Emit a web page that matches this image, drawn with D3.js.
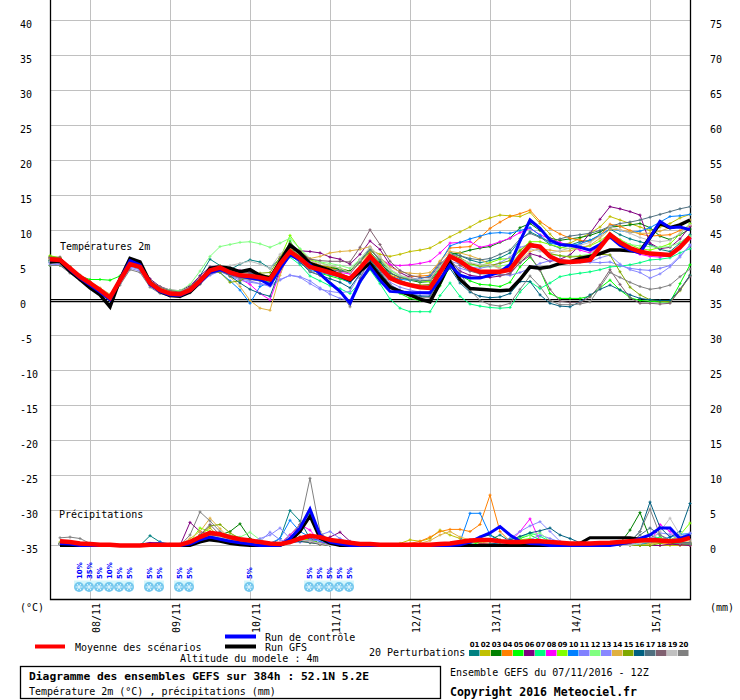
<!DOCTYPE html>
<html>
<head>
<meta charset="utf-8">
<script src="https://cdn.jsdelivr.net/npm/d3@7"></script>
<style>
body{margin:0;background:#fff}
text{font-family:"DejaVu Sans Mono",monospace;font-size:10px;fill:#000}
</style>
</head>
<body>
<svg id="chart" width="740" height="700"></svg>
<script>
// time steps: every 3h from 07/11 12Z (hours after run start)
var hours = d3.range(0, 193, 3);
var dayLabels = ["08/11","09/11","10/11","11/11","12/11","13/11","14/11","15/11"];
var dayHours = [12,36,60,84,108,132,156,180];
var tempTicks = [40,35,30,25,20,15,10,5,0,-5,-10,-15,-20,-25,-30,-35];
var precTicks = [75,70,65,60,55,50,45,40,35,30,25,20,15,10,5,0];

// temperature 2m (°C)
var meanT = [5.9,5.8,4.6,3.4,2.5,1.5,0.4,2.9,5.2,4.8,2.5,1.5,1.0, 0.9,1.5,2.8,4.3,4.7,4.0,3.6,3.5,3.3,3.0,5.2,7.0,6.0, 4.8,4.4,4.0,3.6,3.1,4.6,6.3,4.8,3.2,2.6,2.2,1.9,1.8, 4.0,6.3,5.6,4.6,4.1,4.1,4.1,4.4,6.3,7.9,7.7,6.3,5.6, 5.5,5.6,5.8,7.6,9.4,8.3,7.5,7.0,6.7,6.6,6.5,7.6,9.1];
var ctrlT = [5.8,5.9,4.4,3.2,2.2,1.2,0.1,3.0,5.7,5.1,2.3,1.3,0.8, 0.7,1.4,2.6,4.0,4.4,3.9,3.5,3.2,3.0,2.2,4.5,6.5,5.8, 5.1,3.8,2.5,1.3,-0.4,2.7,4.8,2.9,1.3,1.2,1.1,1.1,1.1, 3.0,5.1,3.6,3.2,3.2,3.6,4.1,5.1,8.5,11.5,10.3,8.6,8.0, 7.9,7.6,7.2,8.0,9.1,7.9,7.2,6.8,9.0,11.3,10.4,10.5,10.1];
var gfsT = [5.5,5.6,4.2,3.0,1.8,0.8,-0.9,3.0,6.0,5.5,2.6,1.3,0.7, 0.6,1.2,2.6,4.6,4.8,4.6,4.1,4.4,3.6,3.2,5.5,7.9,6.8, 5.3,4.8,4.3,3.5,2.9,4.2,5.3,3.5,1.9,1.3,0.8,0.2,-0.2, 2.5,5.5,3.0,1.7,1.6,1.5,1.4,1.5,3.0,4.8,4.6,4.8,5.3, 5.5,6.0,6.3,6.7,7.2,7.2,7.1,7.0,9.0,11.0,10.4,10.8,11.5];

var t01 = [6.2,6.0,4.3,3.2,2.2,1.0,0.0,2.6,5.0,4.5,2.3,1.3,0.8, 0.8,1.8,3.5,5.9,5.0,4.4,5.2,5.8,5.5,4.6,6.0,7.6,6.3, 5.2,4.9,4.6,4.4,4.0,5.6,7.5,5.6,3.6,2.9,2.3,2.0,2.1, 4.5,6.9,6.4,5.8,5.4,5.7,6.1,6.8,8.6,9.8,9.1,8.0,7.5, 7.9,8.4,8.6,9.3,10.2,9.4,8.8,8.4,8.0,7.3,7.0,8.2,9.4];
var t02 = [5.7,5.6,4.4,3.3,2.4,1.6,0.7,3.1,5.4,4.9,2.8,1.9,1.4, 1.2,1.9,3.0,4.5,4.9,4.4,4.1,3.9,3.7,3.5,5.8,7.8,6.7, 5.5,5.0,4.8,4.6,4.2,5.6,7.2,6.6,6.3,6.6,7.0,7.2,7.5, 8.3,9.1,9.8,10.5,11.3,11.8,12.2,12.1,12.0,12.6,11.0,9.5,8.0, 8.2,8.9,9.6,10.5,12.0,11.5,11.0,10.5,10.0,10.5,11.0,11.8,12.3];
var t03 = [5.8,5.9,4.7,3.5,2.6,1.4,0.3,2.8,5.3,4.9,2.6,1.6,1.1, 0.8,1.3,2.6,4.0,4.6,3.9,3.4,3.3,3.2,2.9,5.4,7.4,6.2, 5.1,4.9,4.7,4.5,4.2,5.8,6.9,5.4,3.9,3.3,2.9,2.6,2.7, 4.6,6.6,6.8,7.2,7.5,7.7,8.3,8.9,10.4,11.0,10.0,8.9,8.6, 8.8,9.0,9.3,9.8,10.5,10.6,10.8,11.0,10.4,9.2,8.7,9.4,10.2];
var t04 = [6.0,5.9,4.6,3.4,2.6,1.6,0.6,3.0,5.4,4.9,2.5,1.6,1.2, 1.0,1.7,3.0,4.4,4.9,4.1,3.7,3.5,3.3,3.0,5.4,7.4,6.9, 5.8,5.0,4.6,4.2,4.0,5.5,6.8,5.1,3.6,3.2,3.4,3.5,3.6, 5.6,7.5,7.6,7.7,9.0,10.3,11.2,12.0,12.4,12.9,11.3,10.3,9.5, 8.9,8.6,8.4,9.3,10.9,10.6,10.0,9.5,9.2,9.3,9.4,10.0,10.7];
var t05 = [5.0,5.0,4.3,3.5,3.0,3.0,2.9,3.5,5.6,4.9,2.7,1.7,1.1, 0.8,1.4,2.6,4.1,4.5,3.7,3.2,3.1,2.9,2.6,5.0,8.5,6.3, 4.6,3.9,3.5,3.1,2.6,4.3,5.9,4.0,2.0,1.0,0.3,0.0,-0.1, 2.1,4.9,3.6,2.8,2.3,2.2,2.0,2.6,4.8,6.2,4.4,1.0,0.3, 0.3,0.3,0.6,1.8,2.9,1.5,0.4,0.0,-0.1,-0.2,-0.2,2.4,5.1];
var t06 = [6.1,6.2,4.8,3.6,2.7,1.6,0.5,3.3,5.5,5.1,3.1,2.0,1.5, 1.4,2.1,3.5,4.8,5.0,4.6,4.3,4.0,3.5,3.3,5.7,7.6,7.1, 7.0,6.8,6.2,5.9,5.2,6.6,8.5,7.3,5.1,4.0,3.3,2.9,2.8, 4.1,5.6,4.2,3.6,3.4,3.3,3.5,3.9,5.4,6.7,6.3,5.6,5.9, 6.5,7.9,9.6,11.6,13.4,13.1,12.7,12.2,8.2,7.4,7.6,8.8,10.6];
var t07 = [5.6,5.5,4.3,3.2,2.3,1.3,0.2,2.7,5.0,4.5,2.4,1.4,0.8, 0.7,1.3,2.5,4.0,4.5,3.9,3.5,3.4,3.0,2.6,4.6,6.2,5.1, 3.5,2.8,2.1,1.7,1.0,2.6,4.4,2.4,0.2,-1.1,-1.6,-1.6,-1.6, 0.7,2.5,0.6,-0.5,-0.8,-1.0,-1.1,-1.0,1.2,2.7,1.7,2.5,3.4, 3.7,3.9,4.1,4.4,4.8,4.9,5.1,5.4,5.8,5.9,6.1,6.8,7.4];
var t08 = [5.9,5.8,4.5,3.3,2.4,1.4,0.4,2.8,5.2,4.7,2.3,1.3,0.9, 0.8,1.5,2.7,4.2,4.6,3.8,3.1,2.3,1.0,0.1,4.0,6.6,5.4, 4.6,4.3,4.2,4.0,3.8,5.5,7.2,6.0,5.1,5.0,5.1,5.3,5.6, 6.8,8.2,8.3,8.4,7.6,7.9,8.4,8.9,9.7,10.3,9.4,8.8,8.3, 7.8,7.2,6.8,7.9,9.1,8.0,7.1,6.6,6.3,6.2,6.4,7.4,8.8];
var t09 = [6.4,6.1,4.8,3.6,2.6,1.5,0.5,3.0,5.4,5.0,2.7,1.7,1.3, 1.1,1.7,3.0,4.6,5.0,4.3,3.8,3.6,3.4,3.3,6.0,9.3,7.3, 5.8,5.4,5.0,4.6,4.0,5.4,7.2,5.9,4.3,3.5,3.1,2.8,2.7, 4.9,6.6,5.7,5.2,5.0,5.4,5.9,6.0,7.2,8.4,8.4,8.0,7.6, 7.4,7.6,7.8,8.5,9.6,8.7,8.0,7.4,7.2,7.6,8.1,9.5,11.0];
var t10 = [5.5,5.6,4.4,3.3,2.3,1.2,0.1,2.7,5.6,5.0,2.5,1.4,0.8, 0.7,1.4,2.9,4.4,4.0,2.8,1.5,-0.4,2.0,2.6,5.2,6.5,5.4, 4.3,4.0,3.7,3.3,2.5,4.1,5.9,4.6,3.4,3.0,2.9,3.1,3.5, 5.4,7.8,8.3,8.8,9.2,9.6,9.7,9.6,10.0,10.4,9.3,8.2,7.9, 7.8,8.1,8.6,9.4,10.2,10.0,9.7,9.9,10.4,11.2,12.0,12.1,12.3];
var t11 = [5.4,5.3,4.2,3.1,2.2,1.2,0.2,2.5,4.8,4.4,2.2,1.2,0.7, 0.6,1.2,2.4,3.6,4.2,3.5,2.9,2.6,2.4,2.2,3.0,3.6,3.4, 2.8,1.8,0.9,0.3,0.0,3.2,5.6,3.9,2.3,1.5,1.0,0.7,0.8, 3.3,5.4,4.6,4.2,4.0,4.1,3.7,3.6,4.0,4.6,5.3,5.7,5.6, 5.4,5.5,5.5,5.4,5.5,5.0,4.6,4.4,4.3,4.6,5.0,6.4,7.8];
var t12 = [5.8,5.7,4.5,3.4,2.5,1.7,0.8,3.2,5.5,5.0,2.8,1.9,1.5, 1.4,2.3,4.2,6.3,7.7,8.0,8.3,8.4,8.1,7.6,8.2,8.9,7.4, 6.0,5.5,5.3,5.0,4.6,5.9,7.6,6.2,4.3,3.5,3.0,2.8,2.9, 4.7,6.6,5.8,5.1,4.8,4.8,4.9,5.2,6.8,8.1,7.4,6.6,6.4, 6.3,6.4,6.6,7.7,8.9,8.5,8.0,7.8,7.7,7.6,7.7,8.3,9.2];
var t13 = [5.2,5.1,4.0,3.0,2.1,1.1,0.1,2.4,4.6,4.2,2.1,1.2,0.8, 0.7,1.3,2.6,3.8,4.1,3.6,3.1,2.8,2.4,2.0,2.9,3.6,3.3, 2.4,1.6,1.3,1.1,1.3,3.8,6.1,4.3,2.6,1.9,1.5,1.2,1.2, 3.6,5.6,5.2,4.8,4.6,4.9,5.4,6.2,7.6,8.0,7.2,6.4,5.9, 5.6,5.5,5.5,6.1,6.5,5.2,4.4,4.0,3.2,3.8,4.8,6.2,8.0];
var t14 = [6.0,5.9,4.7,3.5,2.7,1.8,0.9,3.0,5.1,4.7,2.6,1.7,1.2, 1.1,1.8,3.2,4.6,4.8,3.4,2.0,0.0,-1.1,-1.4,3.6,7.2,6.6, 6.0,6.3,6.8,7.0,7.1,7.3,7.7,6.2,4.8,4.1,3.9,3.8,4.0, 5.6,7.0,6.8,6.4,5.9,5.2,4.6,4.2,5.6,7.0,7.4,7.2,7.0, 7.1,7.5,7.9,8.9,10.2,10.1,9.8,9.6,9.6,9.9,10.4,10.9,11.5];
var t15 = [6.3,6.1,4.8,3.5,2.6,1.6,0.5,2.9,5.2,4.8,2.5,1.6,1.1, 1.0,1.7,3.0,4.2,4.0,2.6,2.8,3.6,3.9,4.0,6.2,8.1,6.6, 5.3,4.8,4.3,3.9,3.3,4.7,6.5,5.0,3.4,2.8,2.4,2.2,2.3, 4.3,6.6,6.1,5.3,4.9,5.0,5.3,5.7,7.1,8.3,7.6,6.7,6.4, 6.2,6.3,6.4,6.6,6.5,4.1,1.9,0.8,0.1,-0.1,-0.2,1.4,3.6];
var t16 = [5.7,5.6,4.4,3.3,2.3,1.3,0.2,2.7,5.1,4.6,2.3,1.3,0.8, 0.7,1.4,2.9,4.3,4.4,3.5,2.5,1.6,1.0,0.6,4.4,6.9,5.5, 4.1,3.6,3.1,2.6,1.8,3.8,5.8,4.0,2.2,1.4,0.9,0.6,0.6, 3.0,4.6,2.5,1.2,0.6,0.4,0.5,1.0,2.7,2.7,0.8,-0.4,-0.8, -0.9,-0.2,0.8,1.6,2.2,1.5,0.8,0.3,0.1,0.0,0.0,1.6,3.6];
var t17 = [5.5,5.6,4.5,3.3,2.4,1.4,0.4,2.8,5.0,4.6,2.4,1.4,1.0, 0.9,1.6,3.0,4.5,4.8,4.3,4.0,3.9,3.6,3.3,5.0,6.8,6.0, 5.0,4.7,4.4,4.2,4.0,5.5,7.3,5.8,4.0,3.3,3.0,2.8,2.9, 5.0,6.6,6.4,6.0,5.8,6.0,6.6,7.2,8.8,9.6,9.0,8.4,8.8, 9.2,9.4,9.6,10.0,10.6,11.0,11.2,11.5,11.9,12.3,12.7,13.1,13.4];
var t18 = [6.1,6.0,4.6,3.3,2.4,1.3,0.3,2.9,5.5,5.1,2.9,1.9,1.4, 1.2,1.9,3.2,4.5,4.8,4.0,3.7,3.6,3.4,3.1,6.0,8.2,7.0, 5.9,5.7,5.6,5.6,5.5,7.6,10.1,8.0,5.6,4.3,3.6,3.3,3.3, 5.2,6.5,5.0,4.2,3.8,3.8,3.6,3.8,5.4,6.4,4.3,1.6,-0.1, -0.3,-0.3,0.5,2.2,4.4,2.3,0.4,-0.4,-0.4,-0.5,-0.4,1.6,3.4];
var t19 = [5.6,5.5,4.3,3.2,2.3,1.2,0.2,2.6,5.3,4.9,2.6,1.6,1.1, 1.0,1.6,3.0,4.4,5.0,5.0,5.3,5.6,5.2,4.6,6.6,8.0,6.8, 5.6,5.3,5.0,4.6,4.0,5.8,7.6,6.2,4.5,3.6,3.2,3.0,3.1, 4.9,6.6,5.9,5.4,5.1,5.1,4.5,4.3,5.8,7.4,7.0,6.8,7.1, 7.5,7.9,8.3,9.2,10.6,10.1,9.6,9.0,8.6,8.4,8.6,9.6,10.8];
var t20 = [5.0,5.0,3.9,2.9,2.0,1.0,0.0,2.2,4.4,4.0,1.9,1.0,0.6, 0.5,1.1,2.3,3.8,4.2,3.6,3.2,3.0,2.8,2.5,4.8,6.8,5.6, 4.2,3.6,2.5,1.3,-0.9,3.2,6.0,4.2,2.3,1.2,0.6,0.4,0.4, 3.8,6.0,4.0,1.5,0.0,-0.6,-0.8,-0.4,1.6,3.5,2.0,0.0,-0.6, -0.6,-0.5,-0.2,1.9,4.0,3.3,2.6,2.0,1.6,1.8,2.2,3.4,4.5];

// precipitation (mm per 3h)
var meanP = [null,0.6,0.5,0.3,0.2,0.1,0.1,0,0,0,0.1,0.1,0.1, 0.1,0.5,1.2,1.8,1.6,1.2,0.9,0.7,0.5,0.3,0.2,0.5,1.0, 1.4,1.2,0.8,0.6,0.4,0.2,0.2,0.1,0.1,0.1,0.1,0.1,0.1, 0.2,0.3,0.5,0.7,0.8,0.8,0.6,0.5,0.5,0.6,0.6,0.5,0.4, 0.3,0.3,0.3,0.35,0.4,0.5,0.6,0.7,0.8,0.7,0.6,0.7,1.1];
var ctrlP = [null,0.3,0.2,0,0,0,0,0,0,0,0.3,0.2,0, 0,0.2,0.8,1.2,0.9,0.6,0.4,0.2,0,0,0,1.0,2.5, 5.2,1.5,0.5,0.2,0,0,0,0,0,0,0,0,0, 0,0,0.1,0.5,1.2,1.8,2.7,1.5,0.6,0.3,0.2,0,0, 0,0,0,0,0,0.2,0.5,1.0,1.5,2.5,2.5,1.0,1.5];
var gfsP = [null,0,0,0,0,0,0,0,0,0,0,0,0, 0,0,0.5,0.8,0.6,0.3,0.1,0,0,0,0,0.6,2.0, 4.2,1.0,0.3,0,0,0,0,0,0,0,0,0,0, 0,0,0,0,0,0,0,0,0,0,0,0,0, 0,0.3,1.1,1.1,1.1,1.1,1.1,0.9,0.8,0.7,0.6,0.8,1.2];

var r01 = [null,0.3,0.2,0,0,0,0,0,0,0,1.4,0.5,0, 0,0.2,1.0,1.5,1.2,0.8,0.5,0.3,0.2,0.1,1.0,5.0,3.5, 1.0,0.3,0.1,0,0,0,0,0,0,0,0,0,0, 0,0,0,0.3,0.5,0.8,1.5,0.6,0.2,0,0,0,0, 0,0,0,0,0,0,0,0,0.5,0.8,0.5,0.3,0.2];
var r02 = [null,0.5,0.4,0.2,0,0,0,0,0,0,0,0,0, 0,0.3,1.5,2.5,1.2,0.8,0.4,0.2,0,0,0.3,1.0,0.8, 0.5,0.2,0,0,0,0,0,0,0,0.3,0.8,0.6,1.0, 2.2,1.5,1.0,0.6,0.3,0.2,0,0,0,0,0,0,0, 0,0,0,0,0,0,0,0,0,0,0,0,0.2];
var r03 = [null,0.2,0.2,0,0,0,0,0,0,0,0,0,0, 0,0.5,1.2,1.8,1.5,2.0,3.1,1.0,0.3,0,0.2,0.8,1.2, 0.8,0.3,0,0,0,0,0,0,0,0,0,0,0, 0,0,0.3,0.6,1.2,1.5,0.8,0.3,0,0,0,0,0, 0,0,0,0,0,0.3,2.2,4.7,1.0,0.5,0.3,0.2,0.2];
var r04 = [null,0.3,0.2,0,0,0,0,0,0,0,0,0,0, 0,0.4,1.2,2.0,1.5,1.0,0.6,0.3,0.1,0,0.3,0.8,1.0, 0.6,0.2,0,0,0,0,0,0,0,0,0.3,0.6,1.2, 2.0,2.3,2.3,2.0,3.0,7.2,2.0,0.6,0.2,0,0,0,0, 0,0,0,0,0,0,0,0.3,0.5,0.3,0.2,0.1,0];
var r05 = [null,0.2,0.1,0,0,0,0,0,0,0,0,0,0, 0,0.3,1.0,1.6,1.4,1.0,0.6,0.3,0.1,0,0.2,1.5,3.0, 4.6,1.0,0.3,0,0,0,0,0,0,0,0,0,0, 0,0,0,0,0.5,0.8,0.6,0.5,1.0,1.5,0.8,0.3,0, 0,0,0,0,0,0,0,0,0.5,1.2,0.5,0.4,0.3];
var r06 = [null,0.2,0.1,0,0,0,0,0,0,0,0,0,0, 0,3.3,2.0,1.5,1.0,0.6,0.3,0.1,0,0,0.2,0.6,1.2, 1.0,0.8,1.2,1.9,0.6,0.1,0,0,0,0,0,0,0, 0,0,0,0,0.2,0.3,0.3,0.2,0,0,0,0,0, 0,0,0,0,0,0,0,0,0,0,0.2,0.1,0];
var r07 = [null,0.2,0.1,0,0,0,0,0,0,0,0,0,0, 0,0.2,0.8,1.3,1.0,0.6,0.4,0.2,0,0,0.3,0.8,1.0, 1.2,1.5,0.6,0.2,0,0,0,0,0,0,0,0,0, 0,0,0,0,0,0,0.5,1.0,1.2,1.8,1.3,0.6,0.3, 0,0,0,0,0,0,0,0.5,1.5,1.0,0.5,0.3,0.2];
var r08 = [null,0.2,0.1,0,0,0,0,0,0,0,0,0,0, 0,0.2,0.8,1.2,1.0,0.8,0.5,0.2,0,0,0.3,1.5,3.0, 2.2,0.5,0.2,0,0,0,0,0,0,0,0,0,0, 0,0,0,0,0,0,0.2,0.5,2.0,3.8,0.6,0.2,0, 0,0,0,0,0,0,0,0,0.3,3.0,2.0,0.6,0.3];
var r09 = [null,0.2,0.2,0,0,0,0,0,0,0,0,0,0, 0,0.5,2.5,2.0,1.4,0.9,0.5,0.2,0,0,0.2,0.7,1.0, 0.8,0.3,0,0,0,0,0,0,0,0,0,0,0, 0,0,0,0,0,0,0.2,0.5,0.8,1.0,0.6,0.3,0, 0,0,0,0,0,0,0,0,0.3,0.5,0.8,1.5,3.2];
var r10 = [null,0.3,0.2,0,0,0,0,0,0,0,0.2,0.5,0.2, 0,0.3,0.8,1.2,1.0,0.8,0.5,0.3,0.1,0.3,1.0,3.6,2.0, 1.2,0.6,0.2,0,0,0,0,0,0,0,0,0,0, 0,0,0.5,4.6,4.6,1.5,0.5,0.2,0,0,0,0,0, 0,0,0,0,0,0,0,0.2,0.5,0.8,1.2,1.6,1.7];
var r11 = [null,0.2,0.1,0,0,0,0,0,0,0,0,0,0, 0,0.2,0.6,1.0,0.8,0.5,0.3,0.2,0.6,1.9,0.8,0.5,0.5, 0.8,1.5,2.0,1.0,0.3,0,0,0,0,0,0,0,0, 0,0,0,0,0,0,0.2,0.4,0.6,0.8,1.5,1.0,0.5, 0,0,0,0,0,0,0,0.3,0.5,0.6,0.8,1.2,1.8];
var r12 = [null,0.2,0.2,0.1,0,0,0,0,0,0,0,0,0, 0,0.3,0.8,1.5,1.8,1.5,1.2,1.9,0.8,0.3,0.2,0.5,0.8, 0.6,0.2,0,0,0,0,0,0,0,0,0,0,0, 0,0,0,0,0,0,0.3,0.8,1.2,1.5,1.8,0.6,0.2, 0,0,0,0,0,0,0,0.3,0.6,1.0,0.8,0.4,0.3];
var r13 = [null,0.2,0.1,0,0,0,0,0,0,0,0,0,0, 0,0.2,0.5,0.8,0.6,0.4,0.3,0.5,1.0,1.5,2.5,1.0,0.5, 0.6,0.8,0.5,0.3,0.2,0.1,0,0,0,0,0,0,0, 0,0,0,0,0,0,0.5,1.0,2.0,2.8,3.4,2.0,0.6, 0.2,0,0,0,0,0,0.2,0.5,1.0,1.8,1.6,1.0,1.7];
var r14 = [null,0.2,0.2,0,0,0,0,0,0,0,0,0,0, 0,1.0,2.0,3.9,2.4,1.0,0.5,0.2,0,0,0.2,0.5,0.6, 0.4,0.2,0,0,0,0,0,0,0,0,0,0.3,0.7, 1.5,2.0,1.2,0.8,0.5,0.3,0,0,0,0,0,0,0, 0,0,0,0,0,0,0,0,0.2,0.4,0.4,0.5,0.5];
var r15 = [null,0.3,0.2,0,0,0,0,0,0,0,0,0,0, 0,0.5,1.5,2.8,3.0,1.8,1.0,0.5,0.2,0,0.2,0.6,0.8, 0.5,0.3,0,0,0,0,0,0,0,0,0,0,0, 0,0,0,0,0,0,0,0,0,0,0,0,0, 0,0,0,0,0,0,0,0,0,0.3,0.6,0.5,0.3];
var r16 = [null,0.2,0.2,0,0,0,0,0,0,0,0.3,0.2,0, 0,0.2,0.6,1.0,0.8,0.5,0.3,0.2,0,0,0.2,0.4,0.6, 0.4,0.2,0,0,0,0,0,0,0,0,0,0,0, 0,0,0,0,0,0.2,0.4,0.8,1.3,1.8,2.1,2.5,1.5, 1.0,0.4,0.2,0,0,0,0.5,2.0,6.2,2.6,1.2,2.0,6.0];
var r17 = [null,0.2,0.1,0,0,0,0,0,0,0,0,0,0, 0,0.2,0.6,1.0,0.8,0.5,0.3,0.2,0,0,0.2,0.5,0.8, 0.6,0.3,0,0,0,0,0,0,0,0,0,0,0, 0,0,0,0,0,0,0,0,0,0,0,0,0, 0,0,0,0,0,0,0.3,1.5,2.5,1.5,0.8,0.5,0.4];
var r18 = [null,0.2,0.2,0,0,0,0,0,0,0,0,0,0, 0,0.5,1.5,3.0,1.5,0.8,0.4,0.2,0,0,0.2,0.5,0.8, 0.5,0.2,0,0,0,0,0,0,0,0,0,0,0, 0,0,0,0,0,0,0,0,0,0,0,0,0, 0,0,0,0,0,0,0.3,1.0,1.5,0.8,0.5,0.3,0.2];
var r19 = [null,0.2,0.1,0,0,0,0,0,0,0,0,0,0, 0,0.3,0.8,1.4,1.2,0.8,0.5,0.3,0.1,0,0.2,0.5,0.8, 0.6,0.3,0,0,0,0,0,0,0,0,0,0,0, 0,0,0,0,0,0,0,0.3,0.5,0.5,0.3,0,0, 0,0,0,0,0,0,0,0.3,0.8,2.0,3.9,1.5,0.8];
var r20 = [null,1.1,1.2,1.0,0.3,0,0,0,0,0,0,0,0, 0,1.5,4.8,3.5,2.0,1.0,0.5,0.3,0.1,0,0.3,1.0,3.0, 9.6,2.0,0.5,0.2,0,0,0,0,0,0,0,0,0, 0,0,0,0,0,0,0,0,0,0,0,0,0, 0,0,0,0,0,0,0.5,2.0,5.2,1.5,0.6,0.3,0.3];

var pertNames = ["01","02","03","04","05","06","07","08","09","10","11","12","13","14","15","16","17","18","19","20"];
var pertColors = ["#008080","#c0c000","#008000","#ff8000","#00ff00","#800080","#00ff80","#ff00ff","#80ff00","#0080ff",
                  "#8080ff","#80ff80","#8888ff","#e0b040","#80a800","#006080","#507080","#806070","#c0c0c0","#808080"];
var pertT = [t01,t02,t03,t04,t05,t06,t07,t08,t09,t10,t11,t12,t13,t14,t15,t16,t17,t18,t19,t20];
var pertP = [r01,r02,r03,r04,r05,r06,r07,r08,r09,r10,r11,r12,r13,r14,r15,r16,r17,r18,r19,r20];

// snow probability icons
var snowHours = [9,12,15,18,21,24,30,33,39,42,60,78,81,84,87,90];
var snowPct = ["10%","35%","5%","10%","5%","5%","5%","5%","5%","5%","5%","5%","5%","5%","5%","5%"];

var svg = d3.select("#chart");
svg.append("rect").attr("width",740).attr("height",700).attr("fill","#fff");

var x = d3.scaleLinear().domain([0,192]).range([50,690]);
var yT = d3.scaleLinear().domain([-35,40]).range([545.5,20.5]);
var yP = d3.scaleLinear().domain([0,75]).range([545.5,20.5]);

// grid
svg.selectAll("line.hg").data(tempTicks).enter().append("line")
    .attr("x1",50).attr("x2",690)
    .attr("y1",function(d){return yT(d)}).attr("y2",function(d){return yT(d)})
    .attr("stroke","#c0c0c0").attr("stroke-width",1);
svg.selectAll("line.vg").data(dayHours).enter().append("line")
    .attr("x1",function(d){return x(d)+0.5}).attr("x2",function(d){return x(d)+0.5})
    .attr("y1",0).attr("y2",600)
    .attr("stroke","#c0c0c0").attr("stroke-width",1);

// zero line (double)
svg.append("line").attr("x1",50).attr("x2",690).attr("y1",yT(0)-1).attr("y2",yT(0)-1).attr("stroke","#000").attr("stroke-width",1.2);
svg.append("line").attr("x1",50).attr("x2",690).attr("y1",yT(0)+1.2).attr("y2",yT(0)+1.2).attr("stroke","#000").attr("stroke-width",1.2);

// frame
svg.append("path").attr("d","M50.5,0V599.5H690.5V0").attr("fill","none").attr("stroke","#000").attr("stroke-width",1.3);

// tick labels
svg.selectAll("text.lt").data(tempTicks).enter().append("text")
    .attr("x",20).attr("y",function(d){return yT(d)+7}).text(function(d){return d});
svg.selectAll("text.rt").data(precTicks).enter().append("text")
    .attr("x",710).attr("y",function(d){return yP(d)+7}).text(function(d){return d});
svg.append("text").attr("x",20).attr("y",611).text("(°C)");
svg.append("text").attr("x",710).attr("y",611).text("(mm)");
svg.selectAll("text.day").data(dayHours).enter().append("text")
    .attr("transform",function(d){return "translate(" + (x(d)+10) + ",603) rotate(-90)"})
    .attr("text-anchor","end").text(function(d,i){return dayLabels[i]});

svg.append("text").attr("x",60).attr("y",250).text("Températures 2m");
svg.append("text").attr("x",59).attr("y",518).text("Précipitations");

// lines
function mkLine(ys){
    return d3.line().defined(function(d){return d != null})
        .x(function(d,i){return x(hours[i])})
        .y(function(d){return ys(d)});
}
var lT = mkLine(yT), lP = mkLine(yP);

function crosses(data, ys){
    var s = "";
    data.forEach(function(d,i){
        if (d == null) return;
        var px = x(hours[i]), py = ys(d);
        s += "M" + (px-1.5) + "," + py + "h3M" + px + "," + (py-1.5) + "v3";
    });
    return s;
}

var gp = svg.append("g");
pertT.forEach(function(s,k){
    gp.append("path").attr("d",lT(s)).attr("fill","none").attr("stroke",pertColors[k]).attr("stroke-width",1);
    gp.append("path").attr("d",crosses(s,yT)).attr("fill","none").attr("stroke",pertColors[k]).attr("stroke-width",1);
});
pertP.forEach(function(s,k){
    gp.append("path").attr("d",lP(s)).attr("fill","none").attr("stroke",pertColors[k]).attr("stroke-width",1);
    gp.append("path").attr("d",crosses(s,yP)).attr("fill","none").attr("stroke",pertColors[k]).attr("stroke-width",1);
});

svg.append("path").attr("d",lT(gfsT)).attr("fill","none").attr("stroke","#000").attr("stroke-width",3.5);
svg.append("path").attr("d",lP(gfsP)).attr("fill","none").attr("stroke","#000").attr("stroke-width",3);
svg.append("path").attr("d",lT(ctrlT)).attr("fill","none").attr("stroke","#0000ff").attr("stroke-width",3);
svg.append("path").attr("d",lP(ctrlP)).attr("fill","none").attr("stroke","#0000ff").attr("stroke-width",3);
svg.append("path").attr("d",lT(meanT)).attr("fill","none").attr("stroke","#ff0000").attr("stroke-width",4.5);
svg.append("path").attr("d",lP(meanP)).attr("fill","none").attr("stroke","#ff0000").attr("stroke-width",4.5);

// snow icons
var gs = svg.append("g");
snowHours.forEach(function(h,i){
    var cx = x(h) - 1, cy = 587;
    gs.append("rect").attr("x",cx-5).attr("y",580.5).attr("width",10).attr("height",5).attr("fill","#d4f6fc");
    gs.append("circle").attr("cx",cx).attr("cy",cy).attr("r",5).attr("fill","#74c8ee");
    gs.append("path").attr("d","M"+(cx-3.5)+","+cy+"h7M"+(cx-1.8)+","+(cy-3)+"l3.6,6M"+(cx+1.8)+","+(cy-3)+"l-3.6,6")
        .attr("stroke","#e8f8ff").attr("stroke-width",0.9);
    gs.append("text").attr("transform","translate(" + (cx+2.5) + ",579) rotate(-90)")
        .style("font-family","DejaVu Sans").style("font-size","7px").style("font-weight","bold")
        .style("fill","#0000ff").text(snowPct[i]);
});

// legend
svg.append("line").attr("x1",35).attr("x2",65).attr("y1",646.5).attr("y2",646.5).attr("stroke","#ff0000").attr("stroke-width",4);
svg.append("text").attr("x",75).attr("y",651).text("Moyenne des scénarios");
svg.append("line").attr("x1",225).attr("x2",256).attr("y1",636.5).attr("y2",636.5).attr("stroke","#0000ff").attr("stroke-width",4);
svg.append("text").attr("x",265).attr("y",641).text("Run de contrôle");
svg.append("line").attr("x1",225).attr("x2",256).attr("y1",646.5).attr("y2",646.5).attr("stroke","#000").attr("stroke-width",4);
svg.append("text").attr("x",265).attr("y",651).text("Run GFS");
svg.append("text").attr("x",180).attr("y",662).text("Altitude du modele : 4m");
svg.append("text").attr("x",369).attr("y",656).text("20 Perturbations");

var gl = svg.append("g");
gl.selectAll("rect").data(pertColors).enter().append("rect")
    .attr("x",function(d,i){return 469 + i*11}).attr("y",650).attr("width",10.5).attr("height",6)
    .attr("fill",function(d){return d});
gl.selectAll("text").data(pertNames).enter().append("text")
    .attr("x",function(d,i){return 474.5 + i*11}).attr("y",647).attr("text-anchor","middle")
    .style("font-family","DejaVu Sans").style("font-size","7px").style("font-weight","bold").text(function(d){return d});

svg.append("rect").attr("x",20.5).attr("y",666.5).attr("width",420).attr("height",32)
    .attr("fill","none").attr("stroke","#000").attr("stroke-width",1.3);
svg.append("text").attr("x",29).attr("y",680).style("font-weight","bold").style("font-size","11.3px")
    .text("Diagramme des ensembles GEFS sur 384h : 52.1N 5.2E");
svg.append("text").attr("x",29).attr("y",695).text("Température 2m (°C) , précipitations (mm)");
svg.append("text").attr("x",450).attr("y",676).text("Ensemble GEFS du 07/11/2016 - 12Z");
svg.append("text").attr("x",450).attr("y",696).style("font-weight","bold").style("font-size","11.5px")
    .text("Copyright 2016 Meteociel.fr");
</script>
</body>
</html>
